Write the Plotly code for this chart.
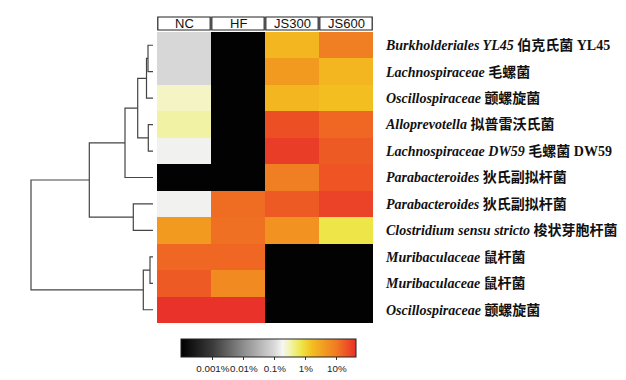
import math
import plotly.graph_objects as go

# ---------------- data ----------------
groups = ["NC", "HF", "JS300", "JS600"]
taxa_latin = ["Burkholderiales YL45", "Lachnospiraceae", "Oscillospiraceae", "Alloprevotella",
              "Lachnospiraceae DW59", "Parabacteroides", "Parabacteroides",
              "Clostridium sensu stricto", "Muribaculaceae", "Muribaculaceae", "Oscillospiraceae"]
taxa_cn = ["伯克氏菌 YL45", "毛螺菌", "颤螺旋菌", "拟普雷沃氏菌", "毛螺菌 DW59", "狄氏副拟杆菌",
           "狄氏副拟杆菌", "梭状芽胞杆菌", "鼠杆菌", "鼠杆菌", "颤螺旋菌"]

# relative abundance (%) per group, one value per taxon (row order top -> bottom)
nc_pct = [0.09, 0.09, 0.26, 0.33, 0.16, 0.0001, 0.16, 4.0, 14, 18, 40]
hf_pct = [0.0001, 0.0001, 0.0001, 0.0001, 0.0001, 0.0001, 12.6, 12.0, 14, 6.3, 40]
js300_pct = [2.0, 4.0, 2.0, 22, 32, 9.0, 18, 5.0, 0.0001, 0.0001, 0.0001]
js600_pct = [9.0, 2.0, 1.6, 14, 18, 20, 28, 0.7, 0.0001, 0.0001, 0.0001]

# hierarchical clustering merges: (left, right, height); leaves 0..10, new nodes 11..
merges = [(0, 1, 5.0), (11, 2, 6.5), (3, 4, 4.7), (12, 13, 15.3), (14, 5, 28.0),
          (6, 7, 19.7), (15, 16, 63.7), (8, 9, 3.0), (18, 10, 9.7), (17, 19, 122.0)]

cbar_tickvals = [-3, -2, -1, 0, 1]
cbar_ticktext = ["0.001%", "0.01%", "0.1%", "1%", "10%"]

# ---------------- figure ----------------
W, H = 626, 380
ZMIN, ZMAX = -4.03, 1.62

cols = [nc_pct, hf_pct, js300_pct, js600_pct]
n = len(taxa_latin)
z = [[math.log10(cols[j][i]) for j in range(len(groups))] for i in range(n)]


def t(v):
    return (v - ZMIN) / (ZMAX - ZMIN)


colorscale = [
    [t(-4.03), "#000000"],
    [t(-3.0), "#3c3c3c"],
    [t(-2.0), "#8e8e8e"],
    [t(-1.0), "#dadada"],
    [t(-0.75), "#f6f6f4"],
    [t(-0.45), "#f2f29c"],
    [t(-0.15), "#eee648"],
    [t(0.2), "#f3be20"],
    [t(0.6), "#f29a20"],
    [t(1.0), "#f07a22"],
    [t(1.3), "#ee5424"],
    [t(1.62), "#e8302a"],
]

fig = go.Figure()

fig.add_trace(go.Heatmap(
    z=z, x=list(range(len(groups))), y=list(range(n)),
    zmin=ZMIN, zmax=ZMAX, colorscale=colorscale,
    xaxis="x", yaxis="y", hoverinfo="skip",
    colorbar=dict(
        orientation="h", x=268.5 / W, xanchor="center", y=(H - 339) / H, yanchor="top",
        len=175 / W, lenmode="fraction", thickness=18, thicknessmode="pixels",
        outlinecolor="#222", outlinewidth=1,
        tickvals=cbar_tickvals, ticktext=cbar_ticktext, ticks="outside", ticklen=3,
        tickangle=0,
        tickcolor="#333", tickfont=dict(family="Liberation Sans, Arial", size=9.8, color="#222"),
        xpad=0, ypad=0,
    ),
))

# dendrogram from merges
pos = {i: (0.0, float(i)) for i in range(n)}
nid = n
for a, b, h in merges:
    ha, ya = pos[a]
    hb, yb = pos[b]
    fig.add_trace(go.Scatter(
        x=[ha, h, h, hb], y=[ya, ya, yb, yb], mode="lines",
        line=dict(color="#444444", width=1.2), xaxis="x2", yaxis="y",
        hoverinfo="skip", showlegend=False))
    pos[nid] = (h, (ya + yb) / 2)
    nid += 1

ticktext = [f"<b><i>{la}</i> {cn}</b>" for la, cn in zip(taxa_latin, taxa_cn)]

x0, x1 = 157 / W, 373 / W
ytop, ybot = 32, 323
fig.update_layout(
    width=W, height=H, margin=dict(l=0, r=0, t=0, b=0, autoexpand=False),
    paper_bgcolor="white", plot_bgcolor="white", showlegend=False,
    xaxis=dict(domain=[x0, x1], range=[-0.5, 3.5], showticklabels=False, showgrid=False,
               zeroline=False, ticks="", anchor="y"),
    yaxis=dict(domain=[(H - ybot) / H, (H - ytop) / H], range=[n - 0.5, -0.5],
               side="right", tickvals=list(range(n)), ticktext=ticktext, ticks="",
               showgrid=False, zeroline=False, ticklabelstandoff=12,
               tickfont=dict(family="Liberation Serif, Times New Roman, Noto Sans CJK SC",
                             size=14, color="#111"), anchor="x"),
    xaxis2=dict(domain=[25 / W, 153 / W], range=[128, 0], visible=False, anchor="y"),
)

# header boxes
for j, g in enumerate(groups):
    fig.add_shape(type="rect", xref="x", yref="paper", x0=j - 0.485, x1=j + 0.485,
                  y0=(H - 30) / H, y1=(H - 17) / H, line=dict(color="#222", width=1.2),
                  fillcolor="white")
    fig.add_annotation(x=j, y=(H - 23.5) / H, xref="x", yref="paper", text=g,
                       yanchor="middle", xanchor="center",
                       showarrow=False, font=dict(family="Liberation Sans, Arial", size=13,
                                                   color="#111"))

fig.write_html("out.html", config={"displayModeBar": False},
               post_script="document.body.style.margin='0';document.body.style.overflow='hidden';")
